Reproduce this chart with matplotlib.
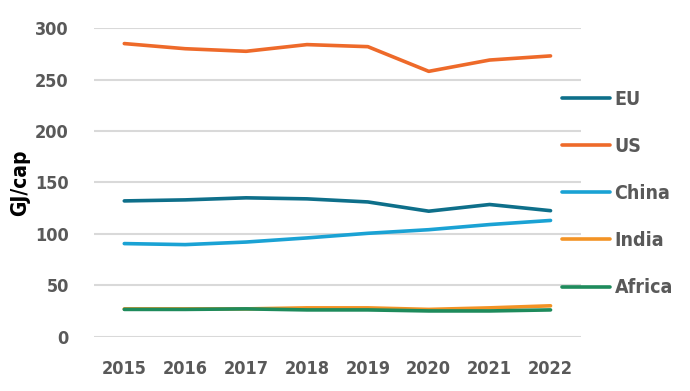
import matplotlib
matplotlib.use("Agg")
import matplotlib.pyplot as plt
from matplotlib.lines import Line2D

years = ["2015", "2016", "2017", "2018", "2019", "2020", "2021", "2022"]
eu = [132, 133, 135, 134, 131, 122, 128.5, 122.5]
us = [285, 280, 277.5, 284, 282, 258, 269, 273]
china = [90.5, 89.5, 92, 96, 100.5, 104, 109, 113]
india = [27, 27, 27, 28, 28, 26.5, 28, 30]
africa = [26.5, 26.5, 27, 26, 26, 25, 25, 26]

series = [("EU", eu, "#0E6F8A"), ("US", us, "#EE6A2A"), ("China", china, "#1AA2D4"),
          ("India", india, "#F39325"), ("Africa", africa, "#1E8B5C")]

plt.rcParams["font.family"] = ["DejaVu Sans"]
plt.rcParams["font.stretch"] = "condensed"
gray = "#595959"

fig = plt.figure(figsize=(6.9, 3.91), dpi=100)
ax = fig.add_axes([0.136, 0.139, 0.706, 0.789])
x = range(len(years))
for name, vals, col in series:
    ax.plot(x, vals, color=col, lw=2.6, solid_capstyle="round")

ax.set_xlim(-0.5, len(years) - 0.5)
ax.set_ylim(0, 300)
ax.set_yticks(range(0, 301, 50))
ax.set_xticks(list(x))
ax.set_xticklabels(years)
ax.grid(axis="y", color="#D9D9D9", lw=1.5)
ax.set_axisbelow(True)
for s in ax.spines.values():
    s.set_visible(False)
ax.tick_params(length=0, labelsize=13, labelcolor=gray)
ax.tick_params(axis="y", pad=18)
ax.tick_params(axis="x", pad=17)
for lab in ax.get_xticklabels() + ax.get_yticklabels():
    lab.set_fontweight("bold")
ax.set_ylabel("GJ/cap", fontsize=15, fontweight="bold", color="black")
ax.yaxis.set_label_coords(-0.13, 0.5)

handles = [Line2D([], [], color=c, lw=2.6, solid_capstyle="round") for _, _, c in series]
leg = fig.legend(handles, [n for n, _, _ in series], loc="center left",
                 bbox_to_anchor=(0.8145, 0.505), frameon=False, handlelength=2.45,
                 handletextpad=0.25, labelspacing=1.45, borderpad=0, borderaxespad=0,
                 prop={"size": 14, "weight": "bold", "stretch": "condensed"})
for t in leg.get_texts():
    t.set_color(gray)

fig.savefig("out.png", dpi=100)
